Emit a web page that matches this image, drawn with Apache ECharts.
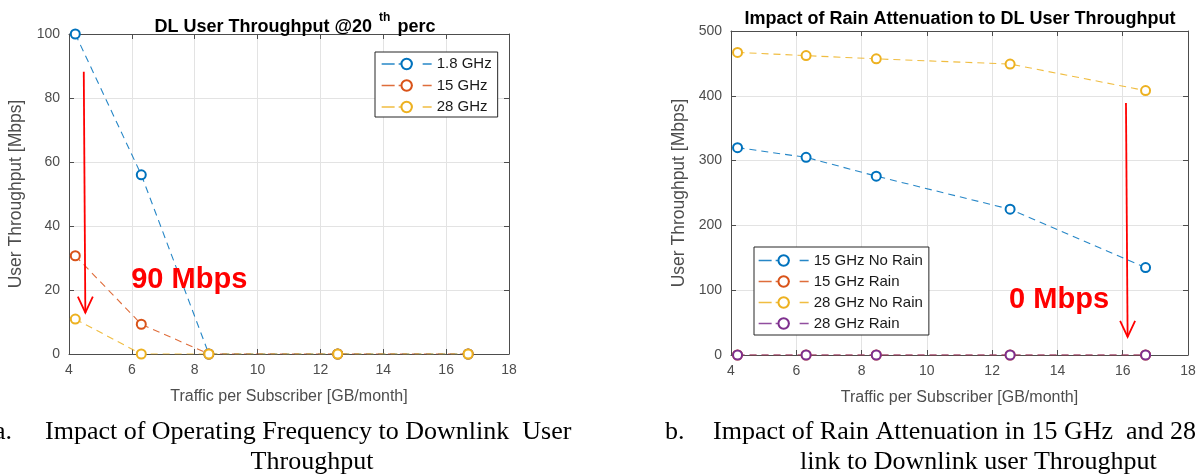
<!DOCTYPE html>
<html>
<head>
<meta charset="utf-8">
<script src="https://cdn.jsdelivr.net/npm/echarts@6/dist/echarts.min.js"></script>
<style>
html,body{margin:0;padding:0;background:#fff;}
#c{width:1203px;height:476px;}
</style>
</head>
<body>
<div id="c"></div>
<script>
// ---- data ----
const trafficGB = [4.2, 6.3, 8.45, 12.55, 16.7];

const freqNames = ['1.8 GHz', '15 GHz', '28 GHz'];
const thr18GHz = [100, 56, 0, 0, 0];
const thr15GHz = [30.7, 9.3, 0, 0, 0];
const thr28GHz = [10.9, 0, 0, 0, 0];

const rainNames = ['15 GHz No Rain', '15 GHz Rain', '28 GHz No Rain', '28 GHz Rain'];
const noRain15GHz = [320, 305, 276, 225, 135];
const rain15GHz = [0, 0, 0, 0, 0];
const noRain28GHz = [467, 462, 457, 449, 408];
const rain28GHz = [0, 0, 0, 0, 0];

const xTickMin = 4, xTickMax = 18, xTickStep = 2;
const yLeftMax = 100, yLeftStep = 20;
const yRightMax = 500, yRightStep = 100;

// annotation anchors in data coordinates
const arrowLeft = [[4.47, 88.2], [4.52, 12.9]];
const arrowRight = [[16.10, 389], [16.15, 28]];
const labelLeft = {text: '90 Mbps', at: [5.98, 23]};
const labelRight = {text: '0 Mbps', at: [12.52, 85]};

// ---- styles ----
const C = ['#0072BD', '#D95319', '#EDB120', '#7E2F8E'];
const FONT = 'Liberation Sans, Arial, sans-serif';
const axisCol = '#4d4d4d';
const gridCol = '#e3e3e3';

function pts(arr) { return trafficGB.map((x, i) => [x, arr[i]]); }
function ser(name, arr, color, xi, yi, z) {
  return {
    type: 'line', name: name, data: pts(arr), xAxisIndex: xi, yAxisIndex: yi,
    symbol: 'emptyCircle', symbolSize: 9, z: z || 2,
    lineStyle: {color: color, width: 1.1, type: [7, 5], opacity: 0.85},
    itemStyle: {color: color, borderColor: color, borderWidth: 1.3},
    emphasis: {disabled: true}, animation: false
  };
}
function xAx(grid, main) {
  return {
    type: 'value', gridIndex: grid, min: xTickMin, max: xTickMax, interval: xTickStep,
    position: main ? 'bottom' : 'top',
    name: main ? 'Traffic per Subscriber [GB/month]' : '',
    nameLocation: 'middle', nameGap: 35,
    nameTextStyle: {fontFamily: FONT, fontSize: 16, color: axisCol},
    axisLine: {show: true, onZero: false, lineStyle: {color: axisCol, width: 1}},
    axisTick: {show: true, inside: true, length: 5, lineStyle: {color: axisCol}},
    axisLabel: {show: main, margin: 9, fontFamily: FONT, fontSize: 14, color: axisCol},
    splitLine: {show: main, lineStyle: {color: gridCol, width: 1}}
  };
}
function yAx(grid, max, step, main) {
  return {
    type: 'value', gridIndex: grid, min: 0, max: max, interval: step,
    position: main ? 'left' : 'right',
    name: main ? 'User Throughput [Mbps]' : '',
    nameLocation: 'middle', nameGap: grid === 0 ? 44 : 43,
    nameTextStyle: {fontFamily: FONT, fontSize: 17.5, color: axisCol},
    axisLine: {show: true, onZero: false, lineStyle: {color: axisCol, width: 1}},
    axisTick: {show: true, inside: true, length: 5, lineStyle: {color: axisCol}},
    axisLabel: {show: main, margin: 9, fontFamily: FONT, fontSize: 14, color: axisCol},
    splitLine: {show: main, lineStyle: {color: gridCol, width: 1}}
  };
}
function legend(names, left, top, gap, pad) {
  return {
    data: names, orient: 'vertical', left: left, top: top,
    itemWidth: 50, itemHeight: 13, itemGap: gap, padding: pad,
    borderColor: '#262626', borderWidth: 1, backgroundColor: '#fff', borderRadius: 0,
    selectedMode: false,
    lineStyle: {type: [13, 4, 14, 10, 9, 100], width: 1.3},
    textStyle: {fontFamily: FONT, fontSize: 15, color: '#1a1a1a'}
  };
}

const chart = echarts.init(document.getElementById('c'), null, {renderer: 'canvas'});
chart.setOption({
  backgroundColor: '#fff',
  animation: false,
  title: [
    {
      text: '{n|DL User Throughput @20 }{s|th}{n| perc}',
      left: 290, top: 7, textAlign: 'center',
      textStyle: {
        rich: {
          n: {fontFamily: FONT, fontSize: 18, fontWeight: 'bold', color: '#000', lineHeight: 24, verticalAlign: 'bottom'},
          s: {fontFamily: FONT, fontSize: 12, fontWeight: 'bold', color: '#000', lineHeight: 24, verticalAlign: 'top', padding: [0, 2, 0, 2]}
        }
      }
    },
    {
      text: 'Impact of Rain Attenuation to DL User Throughput',
      left: 955, top: 5, textAlign: 'center',
      textStyle: {fontFamily: FONT, fontSize: 18, fontWeight: 'bold', color: '#000'}
    }
  ],
  grid: [
    {left: 69, top: 34, width: 440, height: 320, containLabel: false},
    {left: 731, top: 31, width: 457, height: 324, containLabel: false}
  ],
  xAxis: [xAx(0, true), xAx(1, true), xAx(0, false), xAx(1, false)],
  yAxis: [yAx(0, yLeftMax, yLeftStep, true), yAx(1, yRightMax, yRightStep, true),
          yAx(0, yLeftMax, yLeftStep, false), yAx(1, yRightMax, yRightStep, false)],
  legend: [
    legend(freqNames, 375, 52, 6.5, [4.5, 6, 2.5, 6]),
    legend(rainNames, 754, 247, 6, [6, 6, 4, 4])
  ],
  series: [
    ser(freqNames[0], thr18GHz, C[0], 0, 0, 3),
    ser(freqNames[1], thr15GHz, C[1], 0, 0, 4),
    ser(freqNames[2], thr28GHz, C[2], 0, 0, 5),
    ser(rainNames[0], noRain15GHz, C[0], 1, 1, 3),
    ser(rainNames[1], rain15GHz, C[1], 1, 1, 4),
    ser(rainNames[2], noRain28GHz, C[2], 1, 1, 5),
    ser(rainNames[3], rain28GHz, C[3], 1, 1, 6)
  ]
});

function px(g, p) { return chart.convertToPixel({gridIndex: g}, p); }
function arrow(g, a) {
  const p0 = px(g, a[0]), p1 = px(g, a[1]);
  return [
    {type: 'line', shape: {x1: p0[0], y1: p0[1], x2: p1[0], y2: p1[1]}, style: {stroke: '#ff0000', lineWidth: 1.8}, z: 100},
    {type: 'polyline', shape: {points: [[p1[0] - 7.5, p1[1] - 16], [p1[0], p1[1]], [p1[0] + 7.5, p1[1] - 16]]}, style: {stroke: '#ff0000', lineWidth: 1.8, fill: null}, z: 100}
  ];
}
function label(g, l) {
  const p = px(g, l.at);
  return {type: 'text', x: p[0], y: p[1], z: 100,
    style: {text: l.text, fill: '#ff0000', font: 'bold 29px ' + FONT, textVerticalAlign: 'middle', textAlign: 'left'}};
}
function cap(text, x, y, align) {
  return {type: 'text', x: x, y: y, z: 100,
    style: {text: text, fill: '#000', font: '26px "Liberation Serif", "Times New Roman", serif', textAlign: align || 'left', textVerticalAlign: 'top'}};
}
chart.setOption({
  graphic: [].concat(
    arrow(0, arrowLeft), arrow(1, arrowRight),
    [label(0, labelLeft), label(1, labelRight),
     cap('a.', -6, 419), cap('Impact of Operating Frequency to Downlink  User', 45, 419),
     cap('Throughput', 312, 449, 'center'),
     cap('b.', 665, 419), cap('Impact of Rain Attenuation in 15 GHz  and 28', 713, 419),
     cap('link to Downlink user Throughput', 800, 449)]
  )
});
</script>
</body>
</html>
